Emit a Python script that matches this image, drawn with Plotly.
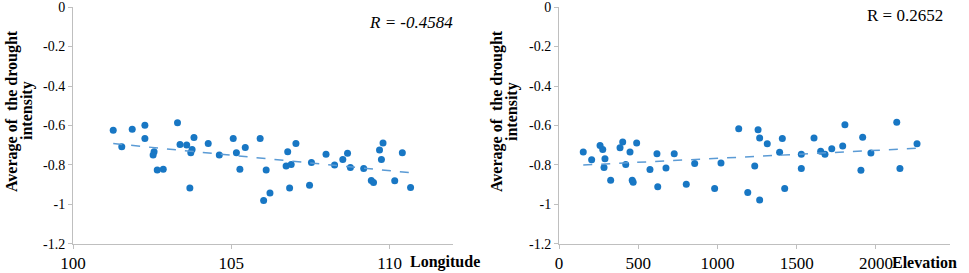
import numpy as np
import plotly.graph_objects as go

# Left panel: Longitude vs average drought intensity
longitude = [101.27, 101.54, 101.87, 102.27, 102.27, 102.56, 102.53, 102.66, 102.85, 103.30,
             103.38, 103.59, 103.82, 103.76, 103.72, 103.69, 104.27, 104.62, 105.06, 105.44,
             105.16, 105.27, 105.91, 106.10, 106.02, 106.22, 106.78, 107.04, 106.73, 106.89,
             106.84, 107.53, 107.47, 107.99, 108.26, 108.52, 108.67, 108.76, 109.18, 109.42,
             109.49, 109.68, 109.79, 109.74, 110.16, 110.40, 110.66]
intensity_lon = [-0.624, -0.708, -0.619, -0.599, -0.666, -0.733, -0.750, -0.825, -0.822, -0.586,
                 -0.696, -0.699, -0.661, -0.721, -0.738, -0.917, -0.691, -0.750, -0.666, -0.711,
                 -0.738, -0.822, -0.666, -0.825, -0.980, -0.942, -0.733, -0.691, -0.805, -0.797,
                 -0.917, -0.788, -0.902, -0.746, -0.800, -0.772, -0.741, -0.813, -0.818, -0.879,
                 -0.889, -0.724, -0.688, -0.772, -0.880, -0.738, -0.914]

# Right panel: Elevation vs average drought intensity
elevation = [153, 206, 259, 276, 290, 284, 326, 385, 402, 448,
             421, 462, 468, 490, 574, 618, 623, 675, 727, 803,
             856, 982, 1022, 1134, 1191, 1235, 1256, 1266, 1266, 1314,
             1409, 1392, 1424, 1529, 1529, 1609, 1651, 1678, 1721, 1790,
             1804, 1916, 1968, 1905, 2131, 2151, 2259]
intensity_elev = [-0.734, -0.773, -0.701, -0.721, -0.768, -0.813, -0.877, -0.713, -0.684, -0.734,
                  -0.798, -0.877, -0.887, -0.689, -0.823, -0.743, -0.910, -0.815, -0.743, -0.897,
                  -0.793, -0.919, -0.790, -0.616, -0.939, -0.805, -0.621, -0.663, -0.977, -0.693,
                  -0.666, -0.735, -0.919, -0.746, -0.818, -0.663, -0.731, -0.746, -0.718, -0.704,
                  -0.596, -0.659, -0.739, -0.827, -0.584, -0.818, -0.693]

y_ticks = [0, -0.2, -0.4, -0.6, -0.8, -1, -1.2]
y_tick_text = ["0", "-0.2", "-0.4", "-0.6", "-0.8", "-1", "-1.2"]
lon_ticks = [100, 105, 110]
elev_ticks = [0, 500, 1000, 1500, 2000]
r_left = "R = -0.4584"
r_right = "R = 0.2652"

W, H = 969, 273
SERIF = "Liberation Serif"
DOT = "#1877c4"
TREND = "#5b9bd5"
AXIS = "#bfbfbf"

fig = go.Figure()


def add_panel(x, y, xa, ya):
    fig.add_trace(go.Scatter(x=x, y=y, mode="markers", xaxis=xa, yaxis=ya,
                             marker=dict(color=DOT, size=7), showlegend=False,
                             hoverinfo="x+y"))
    coef = np.polyfit(x, y, 1)
    xs = np.array([min(x), max(x)])
    fig.add_trace(go.Scatter(x=xs, y=np.polyval(coef, xs), mode="lines",
                             xaxis=xa, yaxis=ya, showlegend=False,
                             line=dict(color=TREND, width=1.5, dash="dash"),
                             hoverinfo="skip"))


add_panel(longitude, intensity_lon, "x", "y")
add_panel(elevation, intensity_elev, "x2", "y2")

ydom = [(H - 244) / H, (H - 7) / H]
common_y = dict(range=[-1.2001, 0.0001], tickvals=y_ticks, ticktext=y_tick_text,
                showgrid=False, zeroline=False, showline=True, linecolor=AXIS,
                linewidth=1, ticks="outside", ticklen=4, tickcolor=AXIS,
                automargin=False, ticklabeloverflow="allow",
                tickfont=dict(family=SERIF, size=14, color="#000"), domain=ydom)
common_x = dict(showgrid=False, zeroline=False, showline=True, linecolor=AXIS,
                linewidth=1, ticks="outside", ticklen=4, tickcolor=AXIS,
                automargin=False, ticklabeloverflow="allow",
                tickfont=dict(family=SERIF, size=17, color="#000"))

fig.update_layout(
    width=W, height=H,
    margin=dict(l=0, r=0, t=0, b=0, autoexpand=False),
    paper_bgcolor="white", plot_bgcolor="white",
    xaxis=dict(common_x, range=[100, 112], tickvals=lon_ticks,
               domain=[73 / W, 453 / W], anchor="y"),
    yaxis=dict(common_y, anchor="x"),
    xaxis2=dict(common_x, range=[0, 2467], tickvals=elev_ticks,
                domain=[559 / W, 950 / W], anchor="y2"),
    yaxis2=dict(common_y, anchor="x2"),
)

annotations = []
# y-axis titles (two lines each)
for cx1, cx2 in [(12, 27), (497, 512)]:
    annotations.append(dict(text="<b>Average of  the drought</b>", x=cx1 / W, y=(H - 111) / H,
                            xref="paper", yref="paper", showarrow=False, textangle=-90,
                            xanchor="center", yanchor="middle",
                            font=dict(family=SERIF, size=16, color="#000")))
    annotations.append(dict(text="<b>intensity</b>", x=cx2 / W, y=(H - 111) / H,
                            xref="paper", yref="paper", showarrow=False, textangle=-90,
                            xanchor="center", yanchor="middle",
                            font=dict(family=SERIF, size=16, color="#000")))
# x-axis titles
annotations.append(dict(text="<b>Longitude</b>", x=408 / W, y=(H - 262) / H,
                        xref="paper", yref="paper", showarrow=False,
                        xanchor="left", yanchor="middle",
                        font=dict(family=SERIF, size=16, color="#000")))
annotations.append(dict(text="<b>Elevation</b>", x=890 / W, y=(H - 262) / H,
                        xref="paper", yref="paper", showarrow=False,
                        xanchor="left", yanchor="middle",
                        font=dict(family=SERIF, size=16, color="#000")))
# correlation labels
annotations.append(dict(text="<i>" + r_left + "</i>", x=411 / W, y=(H - 22) / H,
                        xref="paper", yref="paper", showarrow=False,
                        xanchor="center", yanchor="middle",
                        font=dict(family=SERIF, size=17, color="#000")))
annotations.append(dict(text=r_right, x=905 / W, y=(H - 15) / H,
                        xref="paper", yref="paper", showarrow=False,
                        xanchor="center", yanchor="middle",
                        font=dict(family=SERIF, size=17, color="#000")))
fig.update_layout(annotations=annotations)

fig.write_html(
    "out.html",
    config={"displayModeBar": False},
    post_script="document.body.style.margin='0';document.body.style.overflow='hidden';",
)
